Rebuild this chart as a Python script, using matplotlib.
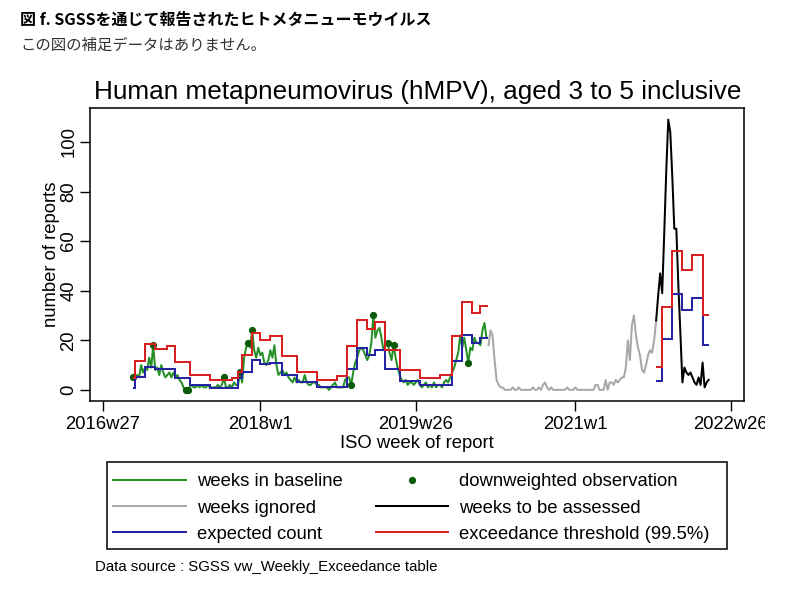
import numpy as np
import matplotlib
matplotlib.use('Agg')
import matplotlib.pyplot as plt
from matplotlib.lines import Line2D
from matplotlib.patches import Rectangle
from matplotlib.transforms import Bbox, TransformedBbox

# ---------------- data (x = weeks since 2016w27, 52 weeks per year) ----------------
tick_weeks = [0, 78, 155, 234, 311]
tick_labels = ['2016w27', '2018w1', '2019w26', '2021w1', '2022w26']
y_ticks = [0, 20, 40, 60, 80, 100]

# weeks in baseline (green), starting at week 15
baseline_start = 15
baseline_counts = [
    5, 4, 6, 5, 10, 7, 9, 8, 13, 9,
    18, 8, 9, 6, 10, 7, 5, 6, 7, 5,
    7, 5, 6, 4, 3, 1, 0, 0, 1, 2,
    1, 1, 2, 1, 2, 1, 1, 2, 1, 1,
    1, 1, 2, 1, 2, 5, 1, 1, 2, 1,
    3, 2, 2, 7, 3, 13, 17, 19, 17, 24,
    16, 13, 17, 14, 15, 11, 10, 12, 16, 13,
    18, 10, 6, 7, 8, 6, 7, 5, 4, 3,
    5, 3, 4, 3, 3, 6, 3, 2, 2, 3,
    3, 2, 2, 1, 1, 1, 1, 0, 1, 2,
    3, 1, 1, 1, 1, 4, 5, 5, 2, 7,
    11, 13, 16, 17, 16, 14, 12, 14, 19, 30,
    21, 24, 25, 21, 16, 18, 19, 15, 12, 18,
    13, 9, 6, 4, 3, 4, 2, 3, 3, 2,
    3, 4, 2, 1, 2, 3, 1, 2, 1, 3,
    1, 2, 2, 1, 3, 4, 3, 5, 7, 9,
    12, 15, 22, 17, 21, 16, 11, 17, 16, 21,
    19, 19, 18, 24, 27, 21,
]
downweighted_weeks = [15, 25, 41, 42, 60, 68, 72, 74, 123, 134, 141, 144, 181]

# weeks ignored (grey)
ignored_start = 191
ignored_counts = [
    18, 24, 22, 12, 4, 2, 1, 1, 0, 0,
    0, 0, 1, 0, 0, 1, 0, 0, 0, 0,
    0, 0, 1, 0, 0, 1, 0, 2, 3, 1,
    0, 1, 0, 0, 0, 0, 0, 0, 0, 1,
    0, 0, 0, 1, 0, 0, 0, 0, 0, 0,
    0, 0, 0, 2, 2, 0, 0, 0, 4, 0,
    3, 3, 2, 4, 3, 4, 5, 5, 9, 20,
    12, 26, 30, 22, 17, 14, 8, 7, 10, 14,
    16, 15, 20, 28,
]

# weeks to be assessed (black)
assessed_start = 274
assessed_counts = [
    28, 38, 47, 39, 63, 88, 109, 104, 86, 65,
    65, 42, 23, 3, 9, 7, 6, 7, 5, 3,
    2, 5, 2, 11, 1, 3, 4,
]

# exceedance threshold (red) and expected count (blue): step edges and values
thresh_edges_1 = [15, 16, 21, 26, 32, 36, 43, 53, 64, 67, 69, 74, 78, 83, 89, 96,
                  106, 116, 121, 126, 131, 135, 140, 147, 157, 167, 173, 178, 183, 187, 191]
thresh_vals_1 = [4.7, 11.7, 18.4, 16.5, 17.8, 11.4, 5.8, 3.8, 4.6, 7.0, 14.1, 22.9, 20.2,
                 21.8, 13.5, 7.0, 4.0, 5.6, 17.5, 28.3, 24.7, 27.4, 16.1, 8.1, 4.8, 6.0,
                 21.8, 35.4, 31.0, 33.8]
exp_edges_1 = [15, 16, 21, 26, 36, 43, 53, 67, 69, 74, 78, 83, 89, 96, 106, 121, 126,
               131, 135, 140, 147, 157, 173, 178, 183, 187, 191]
exp_vals_1 = [0.8, 5.2, 9.4, 8.4, 4.6, 1.8, 0.8, 4.6, 7.4, 12.2, 10.4, 11.0, 5.8, 3.2,
              1.0, 8.4, 16.8, 14.1, 16.2, 8.4, 3.4, 1.8, 11.6, 22.2, 18.8, 20.8]

steps_edges_2 = [274, 277, 282, 287, 292, 297, 300]
thresh_vals_2 = [9.4, 33.4, 56.1, 48.4, 54.5, 30.3]
exp_vals_2 = [3.6, 20.5, 38.8, 32.3, 37.0, 18.2]

# ---------------- styling ----------------
GREEN = '#259025'
DOT = '#0a5c0a'
GREY = '#a8a8a8'
BLUE = '#2424a4'
RED = '#d82020'
LW = 1.45
FONT = 'Liberation Sans'
JP = ['Noto Sans CJK JP', 'DejaVu Sans']

W, H = 811, 599
fig = plt.figure(figsize=(W / 100, H / 100), dpi=100)
fig.patch.set_facecolor('white')

# Japanese header
fig.text(20 / W, 1 - 20 / H, '図 f. SGSSを通じて報告されたヒトメタニューモウイルス',
         family=JP, fontsize=11.5, fontweight='bold', va='center', ha='left', color='black')
fig.text(20 / W, 1 - 45 / H, 'この図の補足データはありません。',
         family=JP, fontsize=11.1, va='center', ha='left', color='#333333')

# chart title
fig.text(418 / W, 1 - 92 / H, 'Human metapneumovirus (hMPV), aged 3 to 5 inclusive',
         family=FONT, fontsize=18.8, va='center', ha='center', color='black')

ax = fig.add_axes([90 / W, 1 - 401 / H, 654 / W, 293 / H])
ax.set_facecolor('white')

bw = np.arange(baseline_start, baseline_start + len(baseline_counts))
bc = np.array(baseline_counts)
ax.plot(bw, bc, color=GREEN, lw=LW, zorder=2)
dw = np.array(downweighted_weeks)
ax.plot(dw, bc[dw - baseline_start], ls='none', marker='o', ms=4.2, color=DOT, zorder=3)

iw = np.arange(ignored_start, ignored_start + len(ignored_counts))
ax.plot(iw, ignored_counts, color=GREY, lw=LW, zorder=2)

aw = np.arange(assessed_start, assessed_start + len(assessed_counts))
ax.plot(aw, assessed_counts, color='black', lw=LW, zorder=2)

ax.stairs(exp_vals_1, exp_edges_1, baseline=None, color=BLUE, lw=LW, zorder=4)
ax.stairs(exp_vals_2, steps_edges_2, baseline=None, color=BLUE, lw=LW, zorder=4)
ax.stairs(thresh_vals_1, thresh_edges_1, baseline=None, color=RED, lw=LW, zorder=5)
ax.stairs(thresh_vals_2, steps_edges_2, baseline=None, color=RED, lw=LW, zorder=5)

ax.set_xlim(-6.3, 317.5)
ax.set_ylim(-4.5, 113.7)
ax.set_xticks(tick_weeks)
ax.set_xticklabels(tick_labels, family=FONT, fontsize=13.3)
ax.set_yticks(y_ticks)
ax.set_yticklabels([str(v) for v in y_ticks], family=FONT, fontsize=13.3,
                   rotation=90, va='center')
ax.tick_params(axis='x', direction='out', length=7, width=1, color='black', pad=4)
ax.tick_params(axis='y', direction='out', length=7, width=1, color='black', pad=2)
for s in ax.spines.values():
    s.set_color('black')
    s.set_linewidth(1.1)

ax.set_xlabel('ISO week of report', family=FONT, fontsize=13.3, labelpad=1)
ax.set_ylabel('number of reports', family=FONT, fontsize=13.3, labelpad=0)

# clip the last tick label like the embedded chart image
clip = TransformedBbox(Bbox([[0, 0], [765 / W, 1]]), fig.transFigure)
for lab in ax.get_xticklabels():
    lab.set_clip_box(clip)
    lab.set_clip_on(True)

# legend
handles = [
    Line2D([], [], color=GREEN, lw=LW),
    Line2D([], [], color=GREY, lw=LW),
    Line2D([], [], color=BLUE, lw=LW),
    Line2D([], [], ls='none', marker='o', ms=4.2, color=DOT),
    Line2D([], [], color='black', lw=LW),
    Line2D([], [], color=RED, lw=LW),
]
labels = ['weeks in baseline', 'weeks ignored', 'expected count',
          'downweighted observation', 'weeks to be assessed', 'exceedance threshold (99.5%)']
fig.add_artist(Rectangle((107 / W, 1 - 549 / H), 620 / W, 87 / H, transform=fig.transFigure,
                         fill=False, edgecolor='black', lw=1.1))
fig.legend(handles, labels, ncol=2, loc='upper left',
           bbox_to_anchor=(107 / W, 1 - 467 / H), borderaxespad=0, borderpad=0.35,
           frameon=False, prop={'family': FONT, 'size': 13.3}, handlelength=3.9,
           handletextpad=0.6, columnspacing=1.8, labelspacing=0.5)

fig.text(95 / W, 1 - 567 / H, 'Data source : SGSS vw_Weekly_Exceedance table',
         family=FONT, fontsize=10.8, va='center', ha='left', color='black')

fig.savefig('out.png', dpi=100, facecolor='white')
